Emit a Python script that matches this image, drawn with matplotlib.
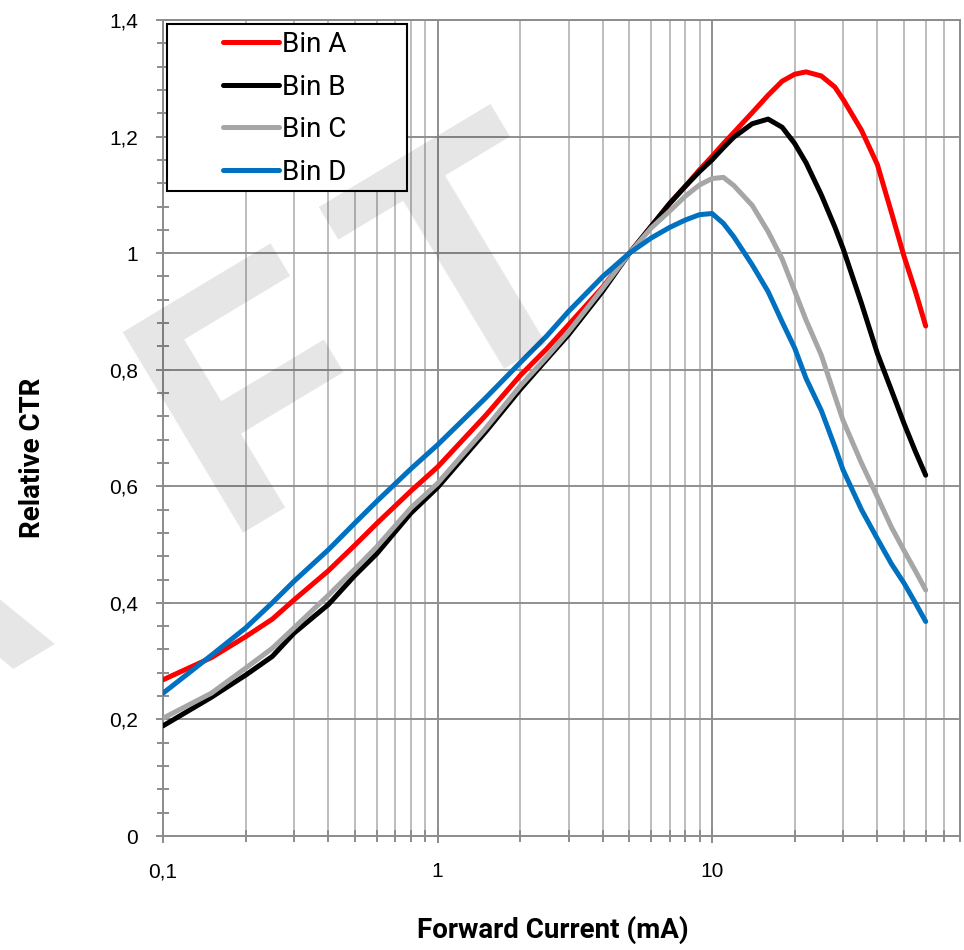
import matplotlib
matplotlib.use("Agg")
import matplotlib.pyplot as plt
from matplotlib import font_manager
from matplotlib.patches import Rectangle
from matplotlib.ticker import FixedLocator, NullFormatter

# forward current (mA)
current = [0.1, 0.15, 0.2, 0.25, 0.3, 0.4, 0.5, 0.6, 0.8, 1, 1.5, 2, 2.5, 3,
           4, 5, 6, 7, 8, 9, 10, 11, 12, 14, 16, 18, 20, 22, 25, 28, 30, 35,
           40, 45, 50, 55, 60]

bin_a = [0.268, 0.306, 0.342, 0.372, 0.405, 0.455, 0.499, 0.536, 0.592, 0.633,
         0.722, 0.790, 0.836, 0.877, 0.942, 1.0, 1.046, 1.085, 1.115, 1.143,
         1.166, 1.188, 1.207, 1.241, 1.271, 1.295, 1.307, 1.311, 1.304, 1.285,
         1.264, 1.211, 1.152, 1.070, 0.995, 0.935, 0.875]
bin_b = [0.189, 0.238, 0.276, 0.308, 0.348, 0.397, 0.447, 0.484, 0.554, 0.598,
         0.694, 0.766, 0.818, 0.860, 0.935, 1.0, 1.046, 1.085, 1.115, 1.140,
         1.160, 1.181, 1.199, 1.222, 1.230, 1.216, 1.188, 1.155, 1.100, 1.045,
         1.008, 0.914, 0.828, 0.765, 0.708, 0.660, 0.619]
bin_c = [0.202, 0.245, 0.288, 0.322, 0.357, 0.413, 0.458, 0.496, 0.563, 0.605,
         0.700, 0.772, 0.822, 0.865, 0.940, 1.0, 1.043, 1.072, 1.098, 1.117,
         1.128, 1.130, 1.116, 1.082, 1.037, 0.990, 0.935, 0.885, 0.825, 0.755,
         0.713, 0.640, 0.582, 0.530, 0.490, 0.455, 0.422]
bin_d = [0.245, 0.310, 0.357, 0.400, 0.437, 0.491, 0.537, 0.574, 0.630, 0.671,
         0.752, 0.812, 0.858, 0.900, 0.960, 1.0, 1.026, 1.044, 1.057, 1.066,
         1.068, 1.051, 1.028, 0.980, 0.934, 0.882, 0.837, 0.785, 0.730, 0.668,
         0.628, 0.560, 0.510, 0.467, 0.434, 0.400, 0.368]

series = [("Bin A", bin_a, "#ff0000"),
          ("Bin B", bin_b, "#000000"),
          ("Bin C", bin_c, "#a6a6a6"),
          ("Bin D", bin_d, "#0070c0")]

y_ticks = [0, 0.2, 0.4, 0.6, 0.8, 1.0, 1.2, 1.4]
y_labels = ["0", "0,2", "0,4", "0,6", "0,8", "1", "1,2", "1,4"]
x_ticks = [0.1, 1, 10]
x_labels = ["0,1", "1", "10"]

W, H = 964, 950
fig = plt.figure(figsize=(W / 100, H / 100), dpi=100)
ax = fig.add_axes([163 / W, (H - 836) / H, (960 - 163) / W, (836 - 20) / H])

for name, vals, col in series:
    ax.plot(current, vals, color=col, lw=3.6, label=name,
            solid_capstyle="round", solid_joinstyle="round", zorder=3)

ax.set_xscale("log")
ax.set_xlim(0.1, 80)
ax.set_ylim(0, 1.4)

ax.set_xticks(x_ticks)
ax.set_xticklabels(x_labels)
minor_x = [m * d for d in (0.1, 1, 10) for m in range(2, 10) if m * d <= 80]
ax.xaxis.set_minor_locator(FixedLocator(minor_x))
ax.xaxis.set_minor_formatter(NullFormatter())
ax.set_yticks(y_ticks)
ax.set_yticklabels(y_labels)
ax.yaxis.set_minor_locator(FixedLocator([i * 0.04 for i in range(36)]))

ax.grid(which="major", color="#8f8f8f", lw=1.4, zorder=1)
ax.grid(which="minor", axis="x", color="#bdbdbd", lw=1.4, zorder=1)
ax.set_axisbelow(True)

for sp in ax.spines.values():
    sp.set_color("#8c8c8c")
    sp.set_linewidth(1.4)

ax.tick_params(which="both", direction="inout", color="#8c8c8c", width=1.4)
ax.tick_params(which="major", length=10)
ax.tick_params(which="minor", length=9)
ax.tick_params(axis="y", which="major", pad=13)
ax.tick_params(axis="x", which="major", pad=14)
for lab in ax.get_xticklabels() + ax.get_yticklabels():
    lab.set_fontfamily("Liberation Sans")
    lab.set_fontsize(15)

# legend box (wider than its entries, as in the original)
ax.add_patch(Rectangle(((167 - 163) / 797, (836 - 191) / 816), 240 / 797, 167 / 816,
                       transform=ax.transAxes, facecolor="white",
                       edgecolor="black", lw=1.5, zorder=4))
leg = ax.legend(loc="upper left", bbox_to_anchor=(223 / W, 1 - 31 / H),
                bbox_transform=fig.transFigure,
                prop={"family": "Roboto", "size": 20}, frameon=False,
                handlelength=2.0, handletextpad=0.12,
                labelspacing=0.56, borderpad=0, borderaxespad=0)
leg.set_zorder(5)

fig.text(553 / W, 1 - 930 / H, "Forward Current (mA)", ha="center", va="center",
         fontsize=20, fontweight="bold", family="Roboto")
fig.text(33 / W, 1 - 458 / H, "Relative CTR", ha="center", va="center",
         rotation=90, fontsize=20, fontweight="bold", family="Roboto")

# DRAFT watermark, one piece per anchor
names = {f.name for f in font_manager.fontManager.ttflist}
if "Liberation Sans Narrow" in names:
    wm_family, wm_size = "Liberation Sans Narrow", 261
else:
    wm_family, wm_size = "Liberation Sans", 245
wm = dict(rotation=31, rotation_mode="anchor", va="baseline", fontsize=wm_size,
          fontweight="bold", family=wm_family, color="black", alpha=0.1,
          zorder=10)
fig.text(60 / W, 1 - 627 / H, "DRA", ha="right", **wm)
fig.text(220 / W, 1 - 533 / H, "F", ha="left", **wm)
fig.text(524 / W, 1 - 354 / H, "T", ha="center", **wm)

fig.savefig("out.png", dpi=100)
